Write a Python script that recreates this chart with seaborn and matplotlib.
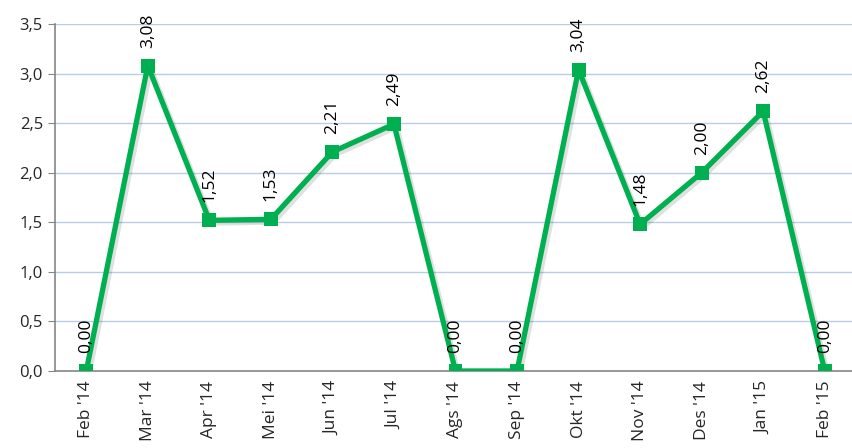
import matplotlib
matplotlib.use("Agg")
import matplotlib.pyplot as plt
import matplotlib.patheffects as pe
import seaborn as sns
import pandas as pd

months = ["Feb '14", "Mar '14", "Apr '14", "Mei '14", "Jun '14", "Jul '14", "Ags '14",
          "Sep '14", "Okt '14", "Nov '14", "Des '14", "Jan '15", "Feb '15"]
values = [0.00, 3.08, 1.52, 1.53, 2.21, 2.49, 0.00, 0.00, 3.04, 1.48, 2.00, 2.62, 0.00]

sns.set_style("white")
plt.rcParams['font.family'] = ['Open Sans', 'DejaVu Sans']

df = pd.DataFrame({"idx": range(len(months)), "month": months, "value": values})

fig = plt.figure(figsize=(8.53, 4.48), dpi=100)
ax = fig.add_axes([55.5 / 853, 77 / 448, 800 / 853, 347 / 448])

sns.lineplot(x="idx", y="value", data=df, ax=ax, color="#00B050", linewidth=3.8,
             marker="s", markersize=10, markeredgewidth=0, zorder=3,
             path_effects=[pe.SimpleLineShadow(offset=(2, -2), alpha=0.12), pe.Normal()])

for i, v in enumerate(values):
    ax.annotate(f"{v:.2f}".replace(".", ","), (i, v), xytext=(0, 13), textcoords="offset points",
                rotation=90, ha="center", va="bottom", fontsize=12.5, color="black")

ax.set_xlim(-0.5, len(months) - 0.5)
ax.set_ylim(0, 3.5)
ax.set_yticks([0, 0.5, 1.0, 1.5, 2.0, 2.5, 3.0, 3.5])
ax.set_yticklabels([f"{t:.1f}".replace(".", ",") for t in ax.get_yticks()], fontsize=12)
ax.set_xticks(range(len(months)))
ax.set_xticklabels(months, rotation=90, fontsize=12.5)
ax.set_xticks([i - 0.5 for i in range(len(months) + 1)], minor=True)
ax.tick_params(axis="x", which="major", length=0, pad=7)
ax.tick_params(axis="x", which="minor", length=5, color="#868686", direction="out")
ax.tick_params(axis="y", length=5, color="#868686", direction="out", left=True, pad=4)
ax.grid(axis="y", color="#B9CDE5", linewidth=1)
ax.set_axisbelow(True)
for s in ["top", "right"]:
    ax.spines[s].set_visible(False)
for s in ["left", "bottom"]:
    ax.spines[s].set_color("#868686")
    ax.spines[s].set_linewidth(1.2)
ax.set_xlabel("")
ax.set_ylabel("")

plt.savefig("out.png", dpi=100)
